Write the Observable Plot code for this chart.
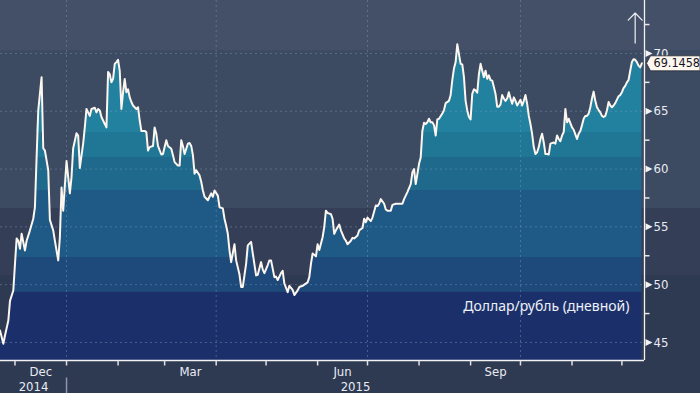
<!DOCTYPE html>
<html><head><meta charset="utf-8">
<script src="https://cdn.jsdelivr.net/npm/d3@7"></script>
<script src="https://cdn.jsdelivr.net/npm/@observablehq/plot@0.6"></script>
<style>
html,body{margin:0;padding:0;background:#2e3952;}
#chart{width:700px;height:393px;}
</style></head><body><div id="chart"></div>
<script>
// ---- data (USD/RUB daily) ----
const dates = [
"2014-11-22","2014-11-24","2014-11-25","2014-11-27","2014-11-28","2014-11-30",
"2014-12-01","2014-12-02","2014-12-03","2014-12-04","2014-12-05","2014-12-07","2014-12-08","2014-12-10","2014-12-12","2014-12-13","2014-12-14","2014-12-15","2014-12-17","2014-12-18","2014-12-19","2014-12-21","2014-12-22","2014-12-24","2014-12-25","2014-12-27","2014-12-28","2014-12-29","2014-12-30",
"2015-01-01","2015-01-03","2015-01-04","2015-01-05","2015-01-07","2015-01-08","2015-01-09","2015-01-11","2015-01-12","2015-01-13","2015-01-14","2015-01-15","2015-01-16","2015-01-18","2015-01-19","2015-01-20","2015-01-21","2015-01-22","2015-01-24","2015-01-25","2015-01-26","2015-01-27","2015-01-28","2015-01-29","2015-01-30","2015-01-31",
"2015-02-01","2015-02-02","2015-02-03","2015-02-04","2015-02-05","2015-02-06","2015-02-07","2015-02-08","2015-02-09","2015-02-10","2015-02-12","2015-02-13","2015-02-14","2015-02-15","2015-02-17","2015-02-18","2015-02-19","2015-02-20","2015-02-22","2015-02-23","2015-02-24","2015-02-25","2015-02-27","2015-02-28",
"2015-03-01","2015-03-02","2015-03-03","2015-03-05","2015-03-06","2015-03-07","2015-03-09","2015-03-10","2015-03-11","2015-03-12","2015-03-13","2015-03-15","2015-03-16","2015-03-17","2015-03-18","2015-03-19","2015-03-20","2015-03-22","2015-03-23","2015-03-24","2015-03-25","2015-03-27","2015-03-28","2015-03-29","2015-03-30","2015-03-31",
"2015-04-02","2015-04-03","2015-04-05","2015-04-06","2015-04-07","2015-04-08","2015-04-09","2015-04-10","2015-04-12","2015-04-13","2015-04-15","2015-04-16","2015-04-17","2015-04-19","2015-04-20","2015-04-22","2015-04-23","2015-04-25","2015-04-26","2015-04-28","2015-04-29","2015-04-30",
"2015-05-02","2015-05-03","2015-05-04","2015-05-06","2015-05-07","2015-05-08","2015-05-10","2015-05-11","2015-05-12","2015-05-14","2015-05-15","2015-05-17","2015-05-18","2015-05-20","2015-05-21","2015-05-23","2015-05-24","2015-05-26","2015-05-27","2015-05-28","2015-05-29","2015-05-31",
"2015-06-01","2015-06-02","2015-06-04","2015-06-05","2015-06-06","2015-06-07","2015-06-09","2015-06-10","2015-06-11","2015-06-12","2015-06-14","2015-06-15","2015-06-17","2015-06-18","2015-06-19","2015-06-21","2015-06-22","2015-06-23","2015-06-25","2015-06-26","2015-06-28","2015-06-29","2015-06-30",
"2015-07-01","2015-07-03","2015-07-04","2015-07-06","2015-07-07","2015-07-08","2015-07-09","2015-07-11","2015-07-12","2015-07-13","2015-07-15","2015-07-16","2015-07-18","2015-07-20","2015-07-22","2015-07-23","2015-07-24","2015-07-25","2015-07-27","2015-07-28","2015-07-29","2015-07-30",
"2015-08-01","2015-08-02","2015-08-03","2015-08-04","2015-08-05","2015-08-06","2015-08-07","2015-08-08","2015-08-09","2015-08-10","2015-08-11","2015-08-12","2015-08-13","2015-08-15","2015-08-16","2015-08-17","2015-08-19","2015-08-20","2015-08-21","2015-08-22","2015-08-23","2015-08-24","2015-08-26","2015-08-27","2015-08-28","2015-08-29","2015-08-30","2015-08-31",
"2015-09-01","2015-09-02","2015-09-03","2015-09-04","2015-09-05","2015-09-06","2015-09-07","2015-09-08","2015-09-09","2015-09-10","2015-09-11","2015-09-12","2015-09-13","2015-09-14","2015-09-15","2015-09-16","2015-09-17","2015-09-18","2015-09-19","2015-09-20","2015-09-21","2015-09-22","2015-09-23","2015-09-24","2015-09-25","2015-09-26","2015-09-27","2015-09-28","2015-09-29",
"2015-10-01","2015-10-02","2015-10-03","2015-10-04","2015-10-05","2015-10-06","2015-10-07","2015-10-08","2015-10-09","2015-10-10","2015-10-11","2015-10-12","2015-10-13","2015-10-14","2015-10-15","2015-10-16","2015-10-17","2015-10-18","2015-10-19","2015-10-21","2015-10-22","2015-10-23","2015-10-24","2015-10-25","2015-10-26","2015-10-27","2015-10-28","2015-10-29","2015-10-30","2015-10-31",
"2015-11-01","2015-11-02","2015-11-03","2015-11-04","2015-11-05","2015-11-06","2015-11-07","2015-11-08","2015-11-09","2015-11-10","2015-11-11","2015-11-12","2015-11-13","2015-11-14","2015-11-15","2015-11-16","2015-11-17","2015-11-18","2015-11-19","2015-11-20","2015-11-21","2015-11-22","2015-11-23","2015-11-24","2015-11-25","2015-11-26","2015-11-27","2015-11-28","2015-11-29","2015-11-30",
"2015-12-01","2015-12-02","2015-12-03","2015-12-04","2015-12-05","2015-12-06","2015-12-07","2015-12-08","2015-12-09","2015-12-10","2015-12-11","2015-12-12","2015-12-13"
];
const values = [
46.04,44.89,45.6,46.9,48.6,49.5,
51.8,54.0,53.8,53.1,54.4,52.96,53.8,54.7,55.7,56.7,61.0,65.07,67.95,61.8,61.6,59.9,55.6,54.7,53.8,52.1,54.1,58.4,56.4,
60.7,57.9,59.3,61.8,63.1,62.9,60.1,62.2,63.6,65.2,64.9,64.6,65.2,65.3,64.9,65.2,65.07,64.5,63.9,63.6,68.4,68.2,67.5,67.8,69.1,69.25,
69.45,68.5,65.2,66.65,67.8,66.65,66.9,66.2,65.8,65.5,65.2,65.35,64.2,63.3,63.3,63.2,61.6,61.9,62.0,63.6,63.05,62.0,61.26,61.3,
61.9,62.5,62.0,61.75,61.2,60.6,60.3,60.3,62.5,62.0,61.3,62.2,62.25,62.0,61.2,59.6,59.9,59.45,58.9,58.15,57.6,57.3,57.6,57.9,57.6,58.15,
57.7,56.7,56.6,55.7,55.1,54.4,52.96,51.95,53.5,52.1,50.9,49.8,49.8,51.8,53.4,53.7,52.7,50.8,50.85,51.95,51.3,51.0,
51.7,52.1,52.1,50.65,50.7,50.4,51.0,51.2,50.1,49.35,49.9,49.55,49.1,49.5,49.8,49.9,50.0,50.2,50.65,51.8,52.7,52.45,
53.5,53.0,54.1,55.0,56.4,56.2,56.1,55.7,54.4,54.7,55.2,54.7,54.0,53.8,53.5,53.8,54.05,54.0,54.25,54.7,54.9,55.7,55.4,
55.8,55.5,55.8,56.85,56.8,57.0,57.4,57.0,56.5,56.4,56.4,56.9,57.0,57.0,57.0,57.4,57.7,58.0,58.7,59.7,60.0,58.7,
60.45,61.0,63.3,64.0,63.9,64.05,64.35,64.05,64.05,63.8,62.9,64.3,64.35,64.8,65.1,65.7,65.9,66.4,67.7,68.7,69.25,70.8,69.1,69.05,67.95,65.9,65.07,64.5,
64.3,66.5,66.9,66.8,66.6,68.2,69.1,68.5,67.95,68.5,67.8,68.1,67.7,67.65,67.1,66.5,65.4,65.4,65.6,66.4,66.1,65.9,66.1,66.65,66.1,65.65,66.2,65.9,65.5,
66.0,65.5,65.9,66.4,65.65,64.6,63.9,63.05,61.9,61.3,61.45,61.9,62.6,63.05,62.3,61.3,61.3,61.26,62.2,62.3,62.2,62.9,62.6,62.4,62.9,63.2,65.2,64.05,64.35,63.97,
63.6,63.4,63.0,62.6,63.05,63.3,63.8,64.35,64.6,64.6,64.8,65.35,66.1,66.7,65.9,65.35,65.1,64.9,64.6,64.5,64.6,65.07,65.8,65.5,65.35,65.5,65.7,66.0,66.3,66.4,
66.65,67.0,67.2,67.5,67.7,68.5,69.25,69.5,69.45,69.25,68.95,68.8,69.1458
];
const yTicks = [45, 50, 55, 60, 65, 70];
const yMinorTicks = [47.5, 52.5, 57.5, 62.5, 67.5, 72.5];
const monthLabels = [
  {month: "2014-12-01", label: "Dec"},
  {month: "2015-03-01", label: "Mar"},
  {month: "2015-06-01", label: "Jun"},
  {month: "2015-09-01", label: "Sep"}
];
const yearLabels = ["2014", "2015"];
const seriesLabel = "Доллар/рубль (дневной)";
const lastLabel = "69.1458";
const arrowMarker = [{from: 70.9, to: 73.5}];

// ---- derived ----
const parse = d3.utcParse("%Y-%m-%d");
const data = dates.map((d, i) => ({date: parse(d), value: values[i]}));
const last = data[data.length - 1];
const xStart = new Date(Date.UTC(2014, 10, 22, 7));
const xEnd = new Date(Date.UTC(2015, 11, 14, 14));
const jan1 = new Date(Date.UTC(2015, 0, 1));
const yMin = 43.44, yMax = 74.58;
const monthStarts = d3.utcMonth.range(new Date(Date.UTC(2014, 11, 1)), new Date(Date.UTC(2015, 11, 2)));
const quarterStarts = d3.utcMonth.every(3).range(new Date(Date.UTC(2014, 11, 1)), xEnd);
const monthMid = monthLabels.map(m => {
  const s = parse(m.month), e = d3.utcMonth.offset(s, 1);
  return {date: new Date((+s + +e) / 2), label: m.label};
});
const yearMid = [
  {date: new Date((+xStart + +jan1) / 2), label: yearLabels[0]},
  {date: new Date((+jan1 + +xEnd) / 2), label: yearLabels[1]}
];

// ---- styles ----
const fillBands = [
  [yMin, 49.35, "#1b306a"],
  [49.35, 52.35, "#1e4a7b"],
  [52.35, 58.15, "#1e5a85"],
  [58.15, 61.0, "#1f6a8c"],
  [61.0, 63.17, "#1f7795"],
  [63.17, yMax, "#22819e"]
];
const axisFont = "'DejaVu Sans Condensed', 'Liberation Sans Narrow', 'DejaVu Sans', sans-serif";
const txt = "#e9ecf2";
const gridStyle = {stroke: "#7d9cbc", strokeOpacity: 0.45, strokeDasharray: "2,3", strokeWidth: 1};
const hTick = {draw(ctx) { ctx.moveTo(0, 0); ctx.lineTo(5, 0); }};
const vTick = {draw(ctx) { ctx.moveTo(0, 0); ctx.lineTo(0, 5); }};
const yearSep = {draw(ctx) { ctx.moveTo(0, 17); ctx.lineTo(0, 33); }};
const tri = {draw(ctx) { ctx.moveTo(1, -3.5); ctx.lineTo(8, 0); ctx.lineTo(1, 3.5); ctx.closePath(); }};
const callout = {draw(ctx) { ctx.moveTo(2, 0); ctx.lineTo(6, -7.5); ctx.lineTo(55.5, -7.5); ctx.lineTo(55.5, 7.5); ctx.lineTo(6, 7.5); ctx.closePath(); }};

const bg = "linear-gradient(to bottom, #444f68 0px, #444f68 50px, #3c4a62 50px, #3c4a62 208px, #343f57 208px, #343f57 275px, #2e3952 275px, #2e3952 393px)";

const chart = Plot.plot({
  width: 700, height: 393,
  marginTop: 0, marginLeft: 0, marginRight: 56, marginBottom: 33,
  style: {background: bg, color: txt, overflow: "visible"},
  x: {type: "utc", domain: [xStart, xEnd], axis: null},
  y: {domain: [yMin, yMax], axis: null},
  marks: [
    ...fillBands.map(([lo, hi, c]) => Plot.areaY(data, {
      x: "date", y1: lo, y2: d => Math.max(lo, Math.min(hi, d.value)), fill: c
    })),
    Plot.ruleY(yTicks, {...gridStyle}),
    Plot.ruleX(quarterStarts, {...gridStyle}),
    Plot.line(data, {x: "date", y: "value", stroke: "#fdf6ef", strokeWidth: 2}),
    Plot.ruleY([yMin], {stroke: "#f2f2f2", strokeWidth: 1.3}),
    Plot.ruleX([xEnd], {stroke: "#f2f2f2", strokeWidth: 1.3}),
    Plot.dot(yMinorTicks, {x: () => xEnd, y: d => d, symbol: hTick, fill: "none", stroke: "#e8e8e8", r: 3}),
    Plot.dot(yTicks, {x: () => xEnd, y: d => d, symbol: tri, fill: "#f2f2f2", stroke: "none", r: 3}),
    Plot.text(yTicks, {x: () => xEnd, y: d => d, text: d => String(d), dx: 9, textAnchor: "start",
      fill: txt, fontSize: 13, fontFamily: axisFont}),
    Plot.dot(monthStarts, {x: d => d, y: () => yMin, symbol: vTick, fill: "none", stroke: "#e0e0e0", r: 3}),
    Plot.dot([jan1], {x: d => d, y: () => yMin, symbol: yearSep, fill: "none", stroke: "#8f98aa", r: 3}),
    Plot.text(monthMid, {x: "date", y: () => yMin, text: "label", dy: 11, fill: txt, fontSize: 13, fontFamily: axisFont}),
    Plot.text(yearMid, {x: "date", y: () => yMin, text: "label", dy: 26, fill: txt, fontSize: 13, fontFamily: axisFont}),
    Plot.text([seriesLabel], {frameAnchor: "bottom-right", text: d => d, dx: -15, dy: -50, textAnchor: "end",
      fill: "#eef1f6", fontSize: 14, fontFamily: "'Noto Sans', 'DejaVu Sans', sans-serif"}),
    Plot.dot([last], {x: () => xEnd, y: "value", symbol: callout, fill: "#fdf7ef", stroke: "#2a2a35", strokeWidth: 0.8, r: 3}),
    Plot.text([last], {x: () => xEnd, y: "value", text: () => lastLabel, dx: 9, textAnchor: "start",
      fill: "#15151f", fontSize: 12.5, fontFamily: axisFont}),
    Plot.arrow(arrowMarker, {x: () => last.date, y1: "from", y2: "to", dx: -6.7,
      stroke: "#eef0f4", strokeWidth: 1.2, headAngle: 88, headLength: 15})
  ]
});
document.getElementById("chart").appendChild(chart);
</script>
</body></html>
